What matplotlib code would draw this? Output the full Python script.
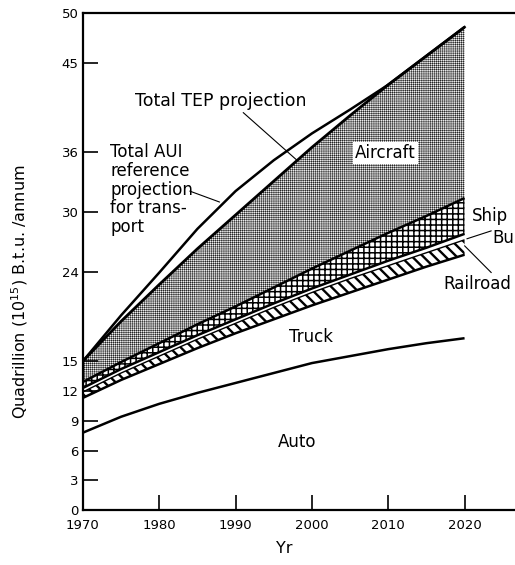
import numpy as np
import matplotlib
matplotlib.use("Agg")
import matplotlib.pyplot as plt

plt.rcParams['font.family'] = ['DejaVu Sans']

# values, quadrillion Btu per year
years = [1970, 1975, 1980, 1985, 1990, 1995, 2000, 2005, 2010, 2015, 2020]
auto = [7.8, 9.4, 10.7, 11.8, 12.8, 13.8, 14.8, 15.5, 16.2, 16.8, 17.3]
truck = [3.5, 3.7, 4.0, 4.5, 5.0, 5.4, 5.8, 6.4, 7.0, 7.7, 8.4]
railroad = [0.6, 0.7, 0.8, 0.9, 1.0, 1.2, 1.3, 1.4, 1.4, 1.4, 1.5]
bus = [0.4, 0.4, 0.4, 0.4, 0.4, 0.4, 0.4, 0.4, 0.5, 0.5, 0.6]
ship = [0.6, 0.7, 0.9, 1.1, 1.3, 1.6, 2.0, 2.4, 2.8, 3.2, 3.6]
aircraft = [2.1, 4.1, 5.9, 7.6, 9.2, 10.7, 12.2, 13.6, 14.9, 16.1, 17.2]
aui_total = [15.0, 19.6, 23.9, 28.3, 32.1, 35.2, 37.9, 40.3, 42.8, 45.7, 48.6]

ytick_vals = [0, 3, 6, 9, 12, 15, 24, 30, 36, 45, 50]
xtick_vals = [1970, 1980, 1990, 2000, 2010, 2020]

x = np.array(years)
modes = [auto, truck, railroad, bus, ship, aircraft]
tops = np.cumsum(np.array(modes), axis=0)
bottoms = np.vstack([np.zeros(len(years)), tops[:-1]])

# (hatch, hatch linewidth, face colour, line width of upper edge)
styles = [
    (None, 0, 'white', 1.8),              # auto
    (None, 0, 'white', 1.8),              # truck
    ('\\\\\\', 1.7, 'white', 1.0),        # railroad
    (None, 0, 'white', 1.8),              # bus
    ('+++', 1.1, 'white', 1.8),           # ship
    ('++++++++', 0.3, '0.93', 2.0),       # aircraft
]

fig = plt.figure(figsize=(5.15, 5.65), dpi=100)
ax = fig.add_axes([0.161, 0.097, 0.87, 0.8797])

for lo, hi, (hatch, hlw, fc, lw) in zip(bottoms, tops, styles):
    if hatch:
        with plt.rc_context({'hatch.linewidth': hlw}):
            coll = ax.fill_between(x, lo, hi, facecolor=fc, edgecolor='black',
                                   hatch=hatch, linewidth=0)
        if hasattr(coll, 'set_hatch_linewidth'):
            coll.set_hatch_linewidth(hlw)
    ax.plot(x, hi, color='black', lw=lw, solid_capstyle='butt')

ax.plot(x, aui_total, color='black', lw=1.8)

ax.set_xlim(1970, 2028.7)
ax.set_ylim(0, 50)
ax.set_xticks(xtick_vals)
ax.set_yticks(ytick_vals)
ax.tick_params(direction='in', length=11, width=1.2, labelsize=9.5)
ax.tick_params(axis='y', pad=3)
ax.tick_params(axis='x', pad=6)
for s in ['left', 'bottom', 'top']:
    ax.spines[s].set_linewidth(1.6)
ax.spines['right'].set_visible(False)

ax.set_ylabel('Quadrillion (10$^{15}$) B.t.u. /annum', fontsize=11.5)
ax.yaxis.set_label_coords(-0.118, 0.44)
ax.set_xlabel('Yr', fontsize=11.5)
ax.xaxis.set_label_coords(0.45, -0.062)

# labels
ax.text(1976.8, 41.2, 'Total TEP projection', fontsize=12.5, va='center')
ax.annotate('', xy=(1998.05, 35.2), xytext=(1991.0, 40.0),
            arrowprops=dict(arrowstyle='-', lw=0.8, shrinkA=0, shrinkB=0))
ax.text(1973.6, 36.9, 'Total AUI\nreference\nprojection\nfor trans-\nport',
        fontsize=12, va='top', linespacing=1.05)
ax.annotate('', xy=(1987.9, 31.0), xytext=(1984.0, 32.1),
            arrowprops=dict(arrowstyle='-', lw=0.8, shrinkA=0, shrinkB=0))
ax.text(2009.6, 35.9, 'Aircraft', fontsize=12, ha='center', va='center',
        bbox=dict(facecolor='white', edgecolor='none', pad=1.5))
ax.text(2021.0, 29.6, 'Ship', fontsize=12, va='center')
ax.text(2023.7, 27.4, 'Bu', fontsize=12, va='center')
ax.annotate('', xy=(2020.3, 27.3), xytext=(2023.5, 28.1),
            arrowprops=dict(arrowstyle='-', lw=0.8, shrinkA=0, shrinkB=0))
ax.text(2017.2, 22.8, 'Railroad', fontsize=12, va='center')
ax.annotate('', xy=(2020.0, 26.6), xytext=(2023.5, 23.9),
            arrowprops=dict(arrowstyle='-', lw=0.8, shrinkA=0, shrinkB=0))
ax.text(1999.9, 17.4, 'Truck', fontsize=12, ha='center', va='center')
ax.text(1998.1, 6.9, 'Auto', fontsize=12, ha='center', va='center')

fig.savefig('out.png', dpi=100)
